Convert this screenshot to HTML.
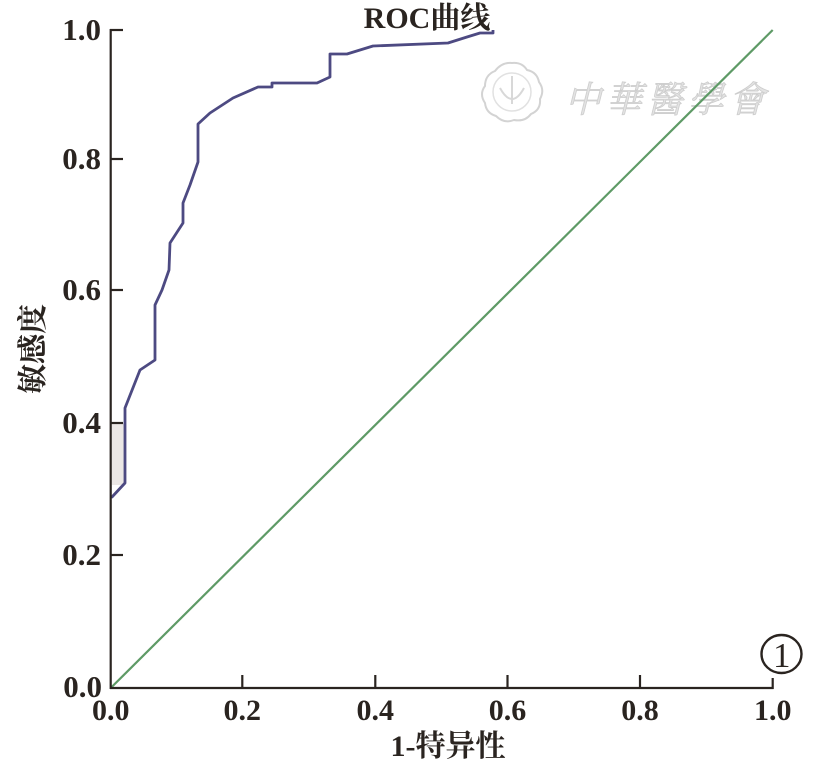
<!DOCTYPE html>
<html>
<head>
<meta charset="utf-8">
<style>
html,body{margin:0;padding:0;background:#fff;}
svg{display:block;}
.t{font-family:"Liberation Serif","Noto Serif CJK SC",serif;font-weight:bold;fill:#2a2420;}
</style>
</head>
<body>
<svg width="827" height="767" viewBox="0 0 827 767" xmlns="http://www.w3.org/2000/svg">
  <rect width="827" height="767" fill="#fff"/>

  <!-- watermark -->
  <g opacity="0.9">
    <path d="M512,63 Q522,62 527,70 Q537,72 539,82 Q545,90 540,99 Q541,110 531,114 Q525,122 514,120 Q504,124 496,116 Q486,113 485,103 Q479,94 485,86 Q485,75 495,71 Q502,62 512,63 Z" fill="none" stroke="#cfcfcf" stroke-width="2"/>
    <circle cx="512" cy="92" r="19" fill="none" stroke="#dedede" stroke-width="1.5"/>
    <path d="M500,88 Q512,110 524,88" fill="none" stroke="#d4d4d4" stroke-width="2"/>
    <line x1="512" y1="76" x2="512" y2="104" stroke="#d4d4d4" stroke-width="2"/>
    <text x="565" y="112" font-family="'Noto Serif CJK TC','Noto Serif CJK SC',serif" font-size="36" font-style="italic" fill="#e0e0e0" stroke="#c8c8c8" stroke-width="0.8" letter-spacing="5">中華醫學會</text>
  </g>

  <!-- light fill near y-axis -->
  <rect x="112" y="423" width="12" height="62" fill="#ebe7e5"/>

  <!-- diagonal reference line -->
  <line x1="110.7" y1="688" x2="772.7" y2="30" stroke="#5e9a66" stroke-width="2.2"/>

  <!-- ROC curve -->
  <path d="M110.7,497 L112,497 L125,483 L125,408 L140,370 L155,360 L155,305 L162,290 L169,270 L170,243 L183,223 L183,203 L190,185 L198,162 L198,124 L210,113 L233,98 L258,87 L272,87 L272,83 L317,83 L330,77 L330,54 L347,54 L373,46 L448,43 L467,37 L480,33 L493,33 L493,30"
        fill="none" stroke="#4d4a82" stroke-width="2.8" stroke-linejoin="round"/>

  <!-- axes -->
  <line x1="110.7" y1="29" x2="110.7" y2="689" stroke="#2a2420" stroke-width="2.2"/>
  <line x1="110" y1="688" x2="773.5" y2="688" stroke="#2a2420" stroke-width="2.2"/>

  <!-- ticks -->
  <g stroke="#2a2420" stroke-width="2.2">
    <line x1="110" y1="30" x2="123" y2="30"/>
    <line x1="110" y1="159" x2="123" y2="159"/>
    <line x1="110" y1="290" x2="123" y2="290"/>
    <line x1="110" y1="423" x2="123" y2="423"/>
    <line x1="110" y1="555" x2="123" y2="555"/>
    <line x1="242.3" y1="688" x2="242.3" y2="675"/>
    <line x1="375.3" y1="688" x2="375.3" y2="675"/>
    <line x1="507.5" y1="688" x2="507.5" y2="675"/>
    <line x1="640" y1="688" x2="640" y2="675"/>
    <line x1="772.7" y1="689" x2="772.7" y2="678"/>
  </g>

  <!-- y tick labels -->
  <g class="t" font-size="31" text-anchor="end">
    <text x="101" y="40">1.0</text>
    <text x="101" y="169">0.8</text>
    <text x="101" y="300">0.6</text>
    <text x="101" y="433">0.4</text>
    <text x="101" y="565">0.2</text>
    <text x="102" y="697">0.0</text>
  </g>

  <!-- x tick labels -->
  <g class="t" font-size="30" text-anchor="middle">
    <text x="110.7" y="720">0.0</text>
    <text x="242.3" y="720">0.2</text>
    <text x="375.3" y="720">0.4</text>
    <text x="507.5" y="720">0.6</text>
    <text x="640" y="720">0.8</text>
    <text x="772.7" y="720">1.0</text>
  </g>

  <!-- title -->
  <text class="t" x="427" y="28" font-size="30" text-anchor="middle">ROC曲线</text>

  <!-- x label -->
  <text class="t" x="448" y="756" font-size="30" text-anchor="middle">1-特异性</text>

  <!-- y label -->
  <text class="t" font-size="30" text-anchor="middle" transform="translate(43,349) rotate(-90)">敏感度</text>

  <!-- circled 1 -->
  <ellipse cx="781.5" cy="654" rx="20" ry="19" fill="none" stroke="#2a2420" stroke-width="2.4"/>
  <text x="781.8" y="667" font-family="'Liberation Serif',serif" font-size="35" text-anchor="middle" fill="#2a2420">1</text>
</svg>
</body>
</html>
